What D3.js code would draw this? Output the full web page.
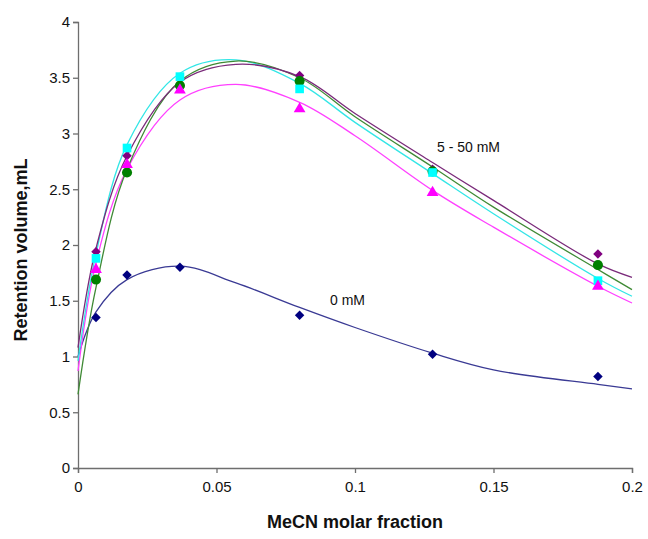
<!DOCTYPE html>
<html><head><meta charset="utf-8">
<script src="https://cdn.jsdelivr.net/npm/d3@7"></script>
<style>body{margin:0;background:#fff}svg{display:block;font-family:"Liberation Sans",Arial,sans-serif}</style>
</head><body>
<svg id="c" width="648" height="539"></svg>
<script>
// Measured data points
const xData = [0.0065, 0.0177, 0.0368, 0.08, 0.128, 0.1877];
const v0mM   = [1.35, 1.73, 1.80, 1.37, 1.02, 0.82];
const vPurple  = [1.94, 2.80, 3.42, 3.52, 2.68, 1.92];
const vGreen   = [1.69, 2.65, 3.43, 3.47, 2.66, 1.82];
const vCyan    = [1.88, 2.87, 3.51, 3.40, 2.65, 1.68];
const vMagenta = [1.78, 2.72, 3.39, 3.22, 2.47, 1.63];

// Fitted curves
const xFit = [0, 0.0065, 0.0177, 0.0368, 0.057, 0.08, 0.1, 0.128, 0.15, 0.1877, 0.2];
const fit0mM   = [1.00, 1.40, 1.69, 1.81, 1.66, 1.44, 1.26, 1.03, 0.88, 0.75, 0.71];
const fitPurple  = [1.08, 1.97, 2.80, 3.46, 3.62, 3.51, 3.18, 2.74, 2.40, 1.83, 1.71];
const fitGreen   = [0.66, 1.62, 2.68, 3.47, 3.65, 3.50, 3.15, 2.70, 2.34, 1.78, 1.60];
const fitCyan    = [0.96, 1.92, 2.90, 3.54, 3.66, 3.45, 3.10, 2.64, 2.28, 1.70, 1.54];
const fitMagenta = [0.87, 1.84, 2.68, 3.30, 3.44, 3.28, 2.98, 2.49, 2.16, 1.63, 1.48];

const xTicks = [0, 0.05, 0.1, 0.15, 0.2];
const xTickLabels = ["0", "0.05", "0.1", "0.15", "0.2"];
const yTicks = [0, 0.5, 1, 1.5, 2, 2.5, 3, 3.5, 4];
const yTickLabels = ["0", "0.5", "1", "1.5", "2", "2.5", "3", "3.5", "4"];

const series = [
  {fit: fit0mM, pts: v0mM, line: "#3a3a94", fill: "#000080", sym: "diamond"},
  {fit: fitMagenta, pts: vMagenta, line: "#ff40ff", fill: "#ff00ff", sym: "triangle"},
  {fit: fitCyan, pts: vCyan, line: "#33e6e6", fill: "#00ffff", sym: "square"},
  {fit: fitGreen, pts: vGreen, line: "#3f8a35", fill: "#008000", sym: "circle"},
  {fit: fitPurple, pts: vPurple, line: "#7a2a7a", fill: "#800080", sym: "diamond"}
];

const svg = d3.select("#c");
const x = d3.scaleLinear().domain([0, 0.2]).range([78, 632]);
const y = d3.scaleLinear().domain([0, 4]).range([468, 22]);

const xAxis = d3.axisBottom(x).tickValues(xTicks).tickFormat((d,i)=>xTickLabels[i]).tickSizeOuter(0).tickSize(5).tickPadding(8);
const yAxis = d3.axisLeft(y).tickValues(yTicks).tickFormat((d,i)=>yTickLabels[i]).tickSizeOuter(0).tickSize(5).tickPadding(3);

const gx = svg.append("g").attr("transform","translate(0,468)").call(xAxis);
const gy = svg.append("g").attr("transform","translate(78,0)").call(yAxis);
[gx, gy].forEach(g => {
  g.selectAll("path,line").attr("stroke","#6e6e6e").attr("stroke-width",1.3);
  g.selectAll("text").attr("fill","#111").style("font-size","15px").style("font-family","'Liberation Sans',Arial,sans-serif");
});

const line = d3.line().x((d,i)=>x(xFit[i])).y(d=>y(d)).curve(d3.curveCatmullRom.alpha(0.5));
series.forEach(s => {
  svg.append("path").attr("d", line(s.fit)).attr("fill","none").attr("stroke", s.line).attr("stroke-width",1.3);
});
const symDefs = {
  diamond: {type: d3.symbolSquare, size: 45, rot: 45},
  triangle: {type: d3.symbolTriangle, size: 60, rot: 0},
  square: {type: d3.symbolSquare, size: 75, rot: 0},
  circle: {type: d3.symbolCircle, size: 80, rot: 0}
};
series.slice().reverse().forEach(s => {
  const def = symDefs[s.sym];
  const sym = d3.symbol().type(def.type).size(def.size);
  svg.append("g").selectAll("path").data(s.pts).join("path")
    .attr("d", sym)
    .attr("transform",(d,i)=>`translate(${x(xData[i])},${y(d)}) rotate(${def.rot})`)
    .attr("fill", s.fill);
});

svg.append("text").attr("x",437).attr("y",152).text("5 - 50 mM").style("font-size","14px").attr("fill","#111");
svg.append("text").attr("x",330).attr("y",305).text("0 mM").style("font-size","14px").attr("fill","#111");

svg.append("text").attr("x",355).attr("y",528).attr("text-anchor","middle")
  .style("font-size","18px").style("font-weight","bold").attr("fill","#111").text("MeCN molar fraction");
svg.append("text").attr("transform","translate(27,250) rotate(-90)").attr("text-anchor","middle")
  .style("font-size","18px").style("font-weight","bold").attr("fill","#111").text("Retention volume,mL");
</script>
</body></html>
